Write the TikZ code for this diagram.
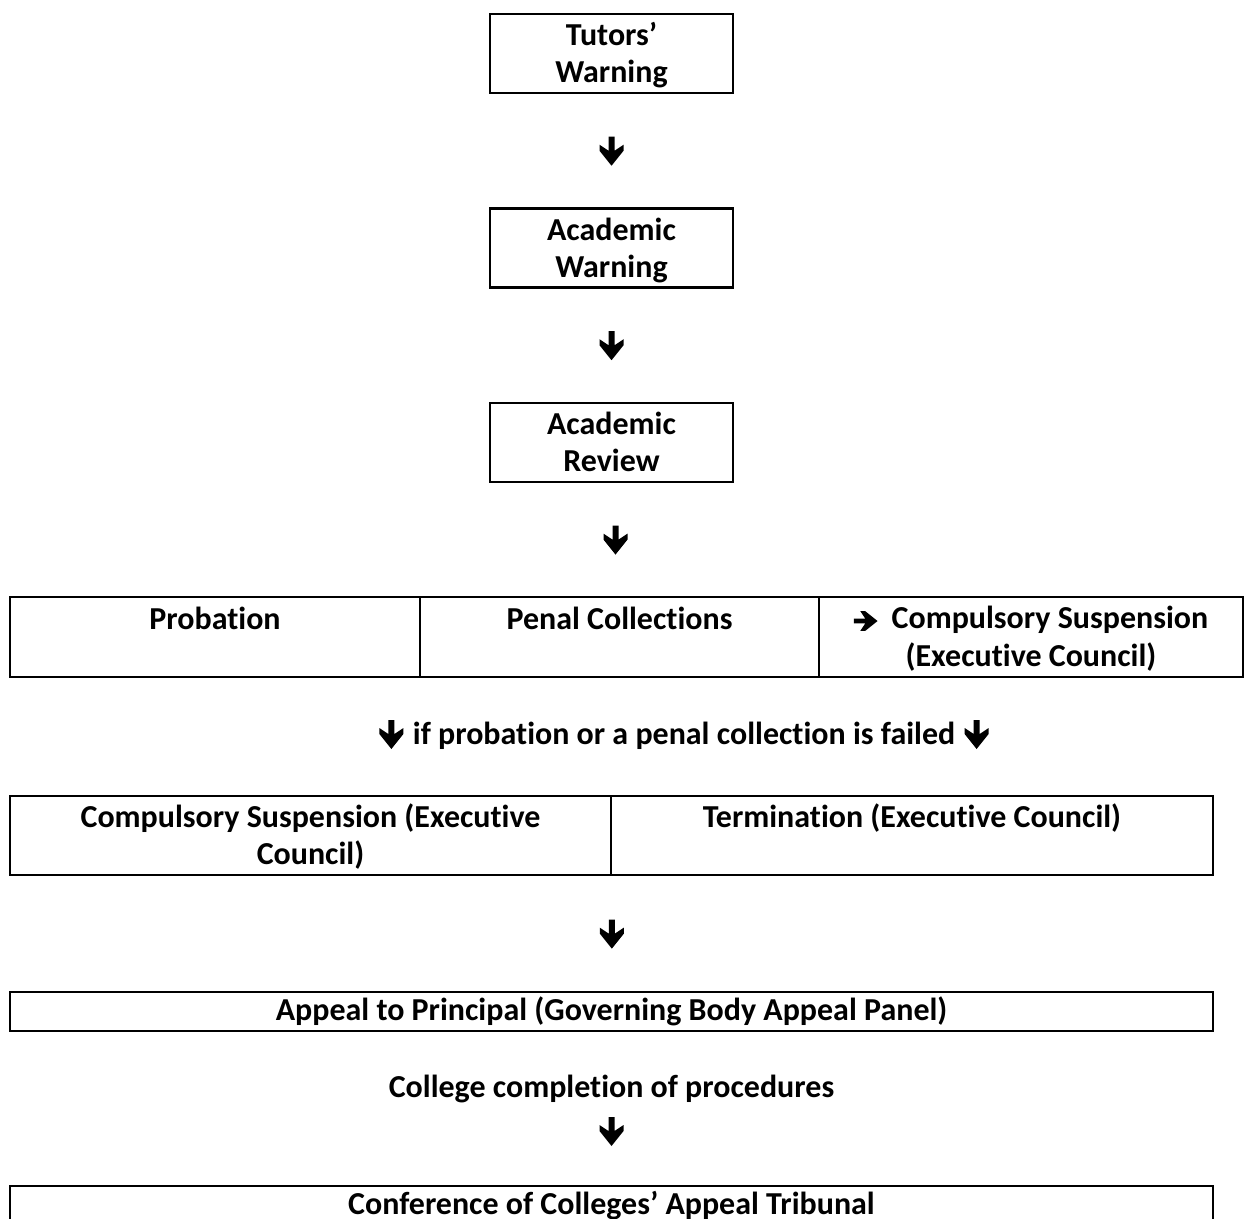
\documentclass[tikz,border=0pt]{standalone}
\usepackage{fontspec}
\setmainfont{Carlito}[Ligatures=NoCommon]
\usepackage{tikz}
\usetikzlibrary{positioning,calc}

\begin{document}
\begin{tikzpicture}[x=0.344pt,y=-0.344pt,
    every node/.style={font=\bfseries\fontsize{11pt}{12.8pt}\selectfont,align=center,inner sep=0pt},
    stage/.style={draw,line width=0.8pt,minimum width=83.6pt,minimum height=27.2pt},
    cell/.style={draw,line width=0.8pt,minimum height=27.4pt},
    celltext/.style={anchor=base},
    downarrow/.pic={\fill (-3,-14) -- (3,-14) -- (3,0) -- (12,-6) -- (12,0) -- (0,15)
                     -- (-12,0) -- (-12,-6) -- (-3,0) -- cycle;},
    rightarrow/.pic={\fill[scale=0.82] (-14,-3) -- (-14,3) -- (0,3) -- (-6,12) -- (0,12) -- (15,0)
                     -- (0,-12) -- (-6,-12) -- (0,-3) -- cycle;}]
\useasboundingbox (0,0) rectangle (1244,1219);
% Here is where we draw the three warning stages down the middle
% (two-line texts sit on the baseline of their last line)
   \node[stage] (tutor)  at (611.5,53.5)  {};
   \node[stage] (acwarn) at (611.5,248)   {};
   \node[stage] (acrev)  at (611.5,442.5) {};
   \node[celltext] (tutortxt)  at ($(tutor.north)+(0,70)$)  {Tutors’\\Warning};
   \node[celltext] (acwarntxt) at ($(acwarn.north)+(0,70)$) {Academic\\Warning};
   \node[celltext] (acrevtxt)  at ($(acrev.north)+(0,70)$)  {Academic\\Review};
% Here is where we draw the two rows of outcomes
   \node[cell,minimum width=141.04pt] (prob)  at (215,637)    {};
   \node[cell,minimum width=137.26pt] (penal) at (619.5,637)  {};
   \node[cell,minimum width=145.86pt] (susp)  at (1031,637)   {};
   \node[celltext] (probtxt)  at ($(prob.north)+(0,33)$)  {Probation};
   \node[celltext] (penaltxt) at ($(penal.north)+(0,33)$) {Penal Collections};
   \node[celltext] (susptxt)  at ($(susp.north)+(0,70)$) {\hspace*{13pt}Compulsory Suspension\\(Executive Council)};
   \node[celltext] (failed) at (684,744) {if probation or a penal collection is failed};
   \node[cell,minimum width=206.74pt] (csusp) at (310.5,835.5) {};
   \node[cell,minimum width=207.09pt] (term)  at (912,835.5)   {};
   \node[celltext] (csusptxt) at ($(csusp.north)+(0,70)$) {Compulsory Suspension (Executive\\Council)};
   \node[celltext] (termtxt)  at ($(term.north)+(0,33)$)  {Termination (Executive Council)};
% Here is where we draw the appeal stages
   \node[cell,minimum width=413.83pt,minimum height=13.42pt] (appeal) at (611.5,1011.5) {Appeal to Principal (Governing Body Appeal Panel)};
   \node[celltext] (college) at (611.5,1097) {College completion of procedures};
   \node[cell,minimum width=413.83pt,minimum height=13.42pt] (confer) at (611.5,1205.5) {Conference of Colleges’ Appeal Tribunal};
% Here is where we put the arrows between the stages
   \pic at ($(tutor.south)!0.5!(acwarn.north)$) {downarrow};
   \pic at ($(acwarn.south)!0.5!(acrev.north)$) {downarrow};
   \pic at ($(acrev.south)!0.5!(penal.north)$) {downarrow};
   \pic at ($(susptxt.base west)+(12,-45)$) {rightarrow};
   \pic at ($(failed.base west)+(-21,-10)$) {downarrow};
   \pic at ($(failed.base east)+(21,-10)$) {downarrow};
   \pic at ($(csusp.south east)!0.5!(appeal.north)$) {downarrow};
   \pic at ($(college.base)+(0,34)$) {downarrow};
\end{tikzpicture}
\end{document}
